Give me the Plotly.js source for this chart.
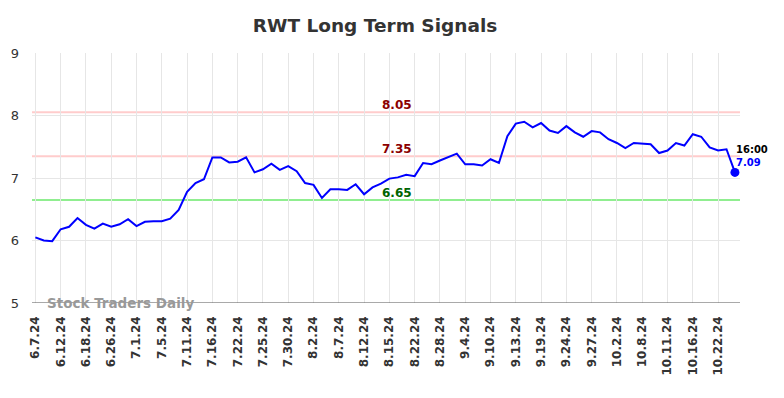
<!DOCTYPE html>
<html>
<head>
<meta charset="utf-8">
<script src="https://cdn.plot.ly/plotly-3.0.1.min.js"></script>
<style>html,body{margin:0;padding:0;background:#fff;}#chart{width:784px;height:398px;}</style>
</head>
<body>
<div id="chart"></div>
<script>
const dates = ["6.7.24","6.10.24","6.11.24","6.12.24","6.13.24","6.17.24","6.18.24","6.20.24","6.24.24","6.26.24",
"6.27.24","6.28.24","7.1.24","7.2.24","7.3.24","7.5.24","7.8.24","7.10.24","7.11.24","7.12.24",
"7.15.24","7.16.24","7.18.24","7.19.24","7.22.24","7.23.24","7.24.24","7.25.24","7.26.24","7.29.24",
"7.30.24","7.31.24","8.1.24","8.2.24","8.5.24","8.6.24","8.7.24","8.8.24","8.9.24","8.12.24",
"8.13.24","8.14.24","8.15.24","8.19.24","8.20.24","8.22.24","8.26.24","8.27.24","8.28.24","8.30.24",
"9.3.24","9.4.24","9.5.24","9.9.24","9.10.24","9.11.24","9.12.24","9.13.24","9.17.24","9.18.24",
"9.19.24","9.20.24","9.23.24","9.24.24","9.25.24","9.26.24","9.27.24","9.30.24","10.1.24","10.2.24",
"10.4.24","10.7.24","10.8.24","10.9.24","10.10.24","10.11.24","10.14.24","10.15.24","10.16.24","10.18.24",
"10.21.24","10.22.24","10.23.24","10.24.24"];
const prices = [6.05,6.00,5.99,6.18,6.22,6.36,6.25,6.19,6.27,6.22,
6.26,6.34,6.23,6.30,6.31,6.31,6.35,6.49,6.78,6.92,
6.98,7.33,7.33,7.25,7.26,7.33,7.09,7.14,7.23,7.13,
7.19,7.11,6.92,6.89,6.68,6.82,6.82,6.81,6.90,6.74,
6.85,6.91,6.99,7.01,7.05,7.03,7.24,7.22,7.28,7.34,
7.39,7.22,7.22,7.20,7.30,7.24,7.67,7.87,7.90,7.81,
7.88,7.76,7.72,7.83,7.73,7.66,7.75,7.73,7.62,7.56,
7.48,7.56,7.55,7.54,7.40,7.44,7.56,7.52,7.70,7.66,
7.49,7.44,7.46,7.09];
const tickLabels = dates.filter((d,i)=>i%3===0);
const resistanceLevels = [8.05, 7.35];
const supportLevels = [6.65];
const levelLabelDate = "8.19.24";
const lastTime = "16:00";

const lastDate = dates[dates.length-1];
const lastPrice = prices[prices.length-1];

const traces = [
  {x: dates, y: prices, type: 'scatter', mode: 'lines', line: {color: '#0000ff', width: 2}, hoverinfo: 'skip'},
  {x: [lastDate], y: [lastPrice], type: 'scatter', mode: 'markers', marker: {color: '#0000ff', size: 9}, hoverinfo: 'skip'}
];

const shapes = [];
const annotations = [];
resistanceLevels.forEach(v => {
  shapes.push({type: 'line', xref: 'paper', x0: 0, x1: 1, yref: 'y', y0: v, y1: v, line: {color: '#ffcccc', width: 2}, layer: 'below'});
  annotations.push({x: levelLabelDate, y: v, xref: 'x', yref: 'y', text: v.toFixed(2), showarrow: false, yanchor: 'bottom', yshift: -2, xshift: -1,
    font: {family: 'DejaVu Sans', size: 12, color: '#8b0000', weight: 'bold'}});
});
supportLevels.forEach(v => {
  shapes.push({type: 'line', xref: 'paper', x0: 0, x1: 1, yref: 'y', y0: v, y1: v, line: {color: '#90ee90', width: 2}, layer: 'below'});
  annotations.push({x: levelLabelDate, y: v, xref: 'x', yref: 'y', text: v.toFixed(2), showarrow: false, yanchor: 'bottom', yshift: -2, xshift: -1,
    font: {family: 'DejaVu Sans', size: 12, color: '#006400', weight: 'bold'}});
});
annotations.push({x: lastDate, y: lastPrice, xref: 'x', yref: 'y', text: lastTime, showarrow: false, xanchor: 'left', yanchor: 'middle',
  xshift: -1, yshift: 23, font: {family: 'DejaVu Sans', size: 10, color: '#000', weight: 'bold'}});
annotations.push({x: lastDate, y: lastPrice, xref: 'x', yref: 'y', text: lastPrice.toFixed(2), showarrow: false, xanchor: 'left', yanchor: 'middle',
  xshift: -1, yshift: 10, font: {family: 'DejaVu Sans', size: 10, color: '#0000ff', weight: 'bold'}});
annotations.push({xref: 'paper', yref: 'y', x: 0.019, y: 5, text: 'Stock Traders Daily', showarrow: false, xanchor: 'left', yanchor: 'middle',
  font: {family: 'DejaVu Sans', size: 13.5, color: '#999999', weight: 'bold'}});

const layout = {
  width: 784, height: 398,
  margin: {l: 32, r: 44, t: 53, b: 95},
  paper_bgcolor: '#fff', plot_bgcolor: '#fff',
  showlegend: false,
  title: {text: 'RWT Long Term Signals', x: 375/784, xanchor: 'center', xref: 'container', y: 1 - 26/398, yanchor: 'middle', yref: 'container',
    font: {family: 'DejaVu Sans', size: 18.5, color: '#333', weight: 'bold'}},
  xaxis: {type: 'category', range: [-0.4, 83.6], tickmode: 'array', tickvals: tickLabels, ticktext: tickLabels, tickangle: -90,
    showgrid: true, gridcolor: '#e6e6e6', gridwidth: 1, zeroline: false, showline: false, ticks: '', ticklabelstandoff: 10,
    tickfont: {family: 'DejaVu Sans', size: 12, color: '#333', weight: 'bold'}, fixedrange: true},
  yaxis: {range: [5, 9], tickvals: [5,6,7,8,9], showgrid: true, gridcolor: '#e6e6e6', gridwidth: 1, zeroline: false,
    showline: false, ticks: '', ticklabelstandoff: 12, tickfont: {family: 'DejaVu Sans', size: 13, color: '#333'}, fixedrange: true},
  shapes: shapes.concat([{type: 'line', xref: 'paper', x0: 0, x1: 1, yref: 'y', y0: 5, y1: 5, line: {color: '#555', width: 1.2}}]),
  annotations: annotations
};
Plotly.newPlot('chart', traces, layout, {displayModeBar: false, staticPlot: true});
</script>
</body>
</html>
